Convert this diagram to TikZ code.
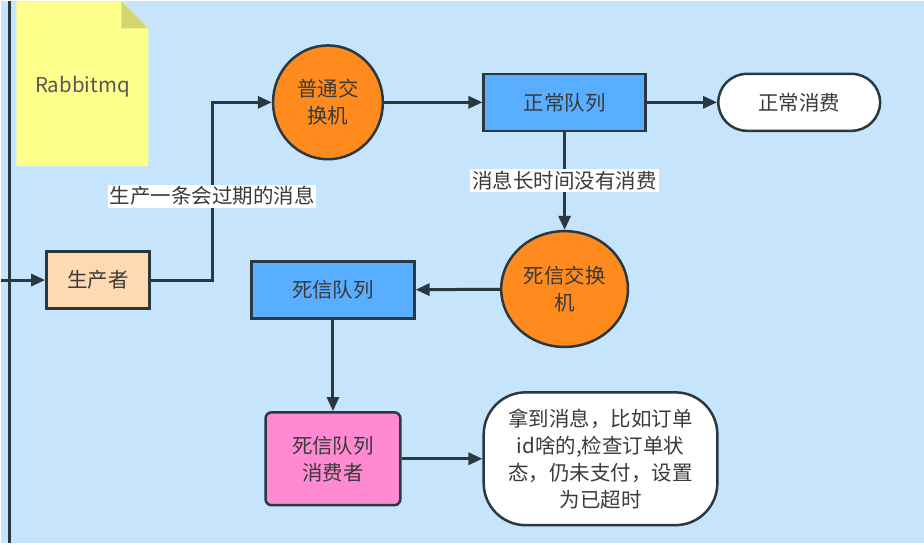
\documentclass[tikz,border=0pt]{standalone}
\usepackage{fontspec}
\setmainfont{Noto Sans CJK SC}
\usetikzlibrary{arrows.meta, positioning, shapes.geometric, shapes.misc}

\definecolor{bg}{HTML}{C6E4FB}
\definecolor{ink}{HTML}{2A3840}
\definecolor{txt}{HTML}{3A3A3A}
\definecolor{peach}{HTML}{FFDAB0}
\definecolor{hubfill}{HTML}{FF8A1E}
\definecolor{qblue}{HTML}{5AAEFF}
\definecolor{qpink}{HTML}{FF8AD2}
\definecolor{notefill}{HTML}{FFFF8C}
\definecolor{notefold}{HTML}{D6D46C}

\begin{document}
\begin{tikzpicture}[x=1pt, y=-1pt,
    font=\fontsize{20.5pt}{27pt}\selectfont,
    box/.style={draw=ink, line width=2.5pt, minimum height=57pt, text=txt, inner sep=0pt, align=center},
    hub/.style={ellipse, draw=ink, line width=2.5pt, fill=hubfill, text=txt, inner sep=0pt, align=center},
    flow/.style={draw=ink, line width=3pt, -{Triangle[length=14pt, width=12pt]}},
    tag/.style={fill=white, text=txt, inner sep=2pt}]
      % background and frame edge
      \fill[bg] (0,0) rectangle (924,542);
      \draw[ink, line width=3pt] (8,0) -- (8,542);

      % Rabbitmq note
      \fill[notefill] (15,0) -- (120,0) -- (147,27) -- (147,165) -- (15,165) -- cycle;
      \fill[notefold] (120,0) -- (120,27) -- (147,27) -- cycle;
      \node[text=txt!85] (mq) at (81,85) {Rabbitmq};

      % nodes
      \node[box, fill=peach, minimum width=103pt] (prod) at (96.5,279) {生产者};
      \node[hub, minimum width=110pt, minimum height=114pt] (ex) at (327,101) {普通交\\换机};
      \node[box, fill=qblue, minimum width=162pt] (normq) at (564,101) {正常队列};
      \node[box, rounded rectangle, fill=white, minimum width=162pt] (normc) at (799,101) {正常消费};
      \node[hub, minimum width=127pt, minimum height=116pt] (dlx) at (564,288) {死信交换\\机};
      \node[box, fill=qblue, minimum width=163pt] (dlq) at (332,289) {死信队列};
      \node[box, rounded corners=6pt, fill=qpink, minimum width=135pt, minimum height=93pt] (dlc) at (332,458) {死信队列\\消费者};
      \node[box, rounded corners=42pt, fill=white, minimum width=234pt, minimum height=133pt] (check) at (600,458) {拿到消息，比如订单\\id啥的,检查订单状\\态，仍未支付，设置\\为已超时};

      % connectors
      \coordinate (src) at (0,279);
      \draw[flow] (src) -- (prod);
      \draw[flow] (prod.east) -- ++(62,0) |- (ex.west);
      \node[tag] (ttl) at (211,195) {生产一条会过期的消息};
      \draw[flow] (ex) -- (normq);
      \draw[flow] (normq) -- (normc);
      \draw[flow] (normq) -- node[tag] (stale) {消息长时间没有消费} (dlx);
      \draw[flow] (dlx) -- (dlq);
      \draw[flow] (dlq) -- (dlc);
      \draw[flow] (dlc) -- (check);
    \end{tikzpicture}
\end{document}
